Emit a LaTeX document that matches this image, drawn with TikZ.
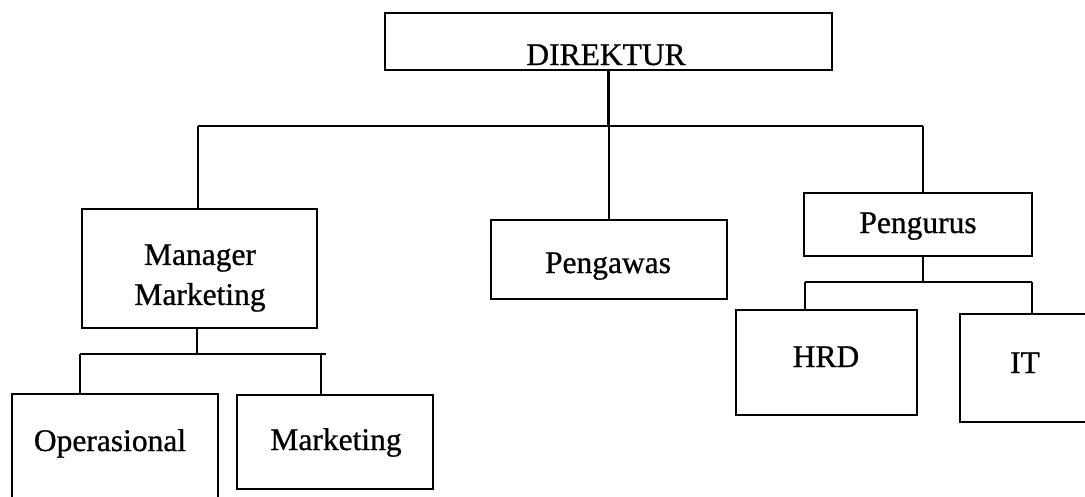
\documentclass[tikz,border=0pt]{standalone}
\usepackage{fontspec}
\setmainfont[FakeBold=0.8]{Liberation Serif}
\begin{document}
\begin{tikzpicture}[x=1pt,y=-1pt,
  box/.style={draw, line width=2.4pt, inner sep=0pt, rectangle},
  txt/.style={inner sep=0pt, font=\fontsize{31.5}{40}\selectfont},
  conn/.style={line width=2.4pt}]
\useasboundingbox (0,0) rectangle (1085,496);
% boxes
\node[box, minimum width=447pt, minimum height=57pt] (dir) at (608.5,41.5) {};
\node[box, minimum width=235pt, minimum height=119pt] (mm) at (199.5,268.5) {};
\node[box, minimum width=236pt, minimum height=79pt] (pw) at (609,259.5) {};
\node[box, minimum width=228pt, minimum height=63pt] (pg) at (918,224.5) {};
\node[box, minimum width=206pt, minimum height=116pt] (op) at (115,452) {};
\node[box, minimum width=196pt, minimum height=94pt] (mk) at (335,442) {};
\node[box, minimum width=181pt, minimum height=105pt] (hrd) at (826.5,362.5) {};
\node[box, minimum width=140pt, minimum height=108pt] (it) at (1030,368) {};
% texts
\node[txt, anchor=base] (tdir) at (606,65) {DIREKTUR};
\node[txt, align=center, anchor=center] (tmm) at (200,278) {Manager\\Marketing};
\node[txt, anchor=base] (tpw) at (608,273) {Pengawas};
\node[txt, anchor=base] (tpg) at (918,233) {Pengurus};
\node[txt, anchor=base] (thrd) at (826,367) {HRD};
\node[txt, anchor=base] (tit) at (1025,373) {IT};
\node[txt, anchor=base] (top) at (110,451) {Operasional};
\node[txt, anchor=base] (tmk) at (336,450) {Marketing};
% connectors
\coordinate (t1) at (198,126);
\coordinate (t3) at (923,126);
\draw[conn] (t1) -- (t3);
\draw[conn] (dir.south) -- (dir.south |- t1);
\draw[conn] (t1) -- (t1 |- mm.north);
\draw[conn] (pw.north |- t1) -- (pw.north);
\draw[conn] (t3) -- (t3 |- pg.north);
% manager sub
\coordinate (m0) at (197,354);
\coordinate (m1) at (80,354);
\coordinate (m2) at (321,354);
\coordinate (m3) at (326,354);
\draw[conn] (m0 |- mm.south) -- (m0);
\draw[conn] (m1) -- (m3);
\draw[conn] (m1) -- (m1 |- op.north);
\draw[conn] (m2) -- (m2 |- mk.north);
% pengurus sub
\coordinate (p0) at (923,282);
\coordinate (p1) at (805,282);
\coordinate (p2) at (1032,282);
\draw[conn] (p0 |- pg.south) -- (p0);
\draw[conn] (p1) -- (p2);
\draw[conn] (p1) -- (p1 |- hrd.north);
\draw[conn] (p2) -- (p2 |- it.north);
\end{tikzpicture}
\end{document}
